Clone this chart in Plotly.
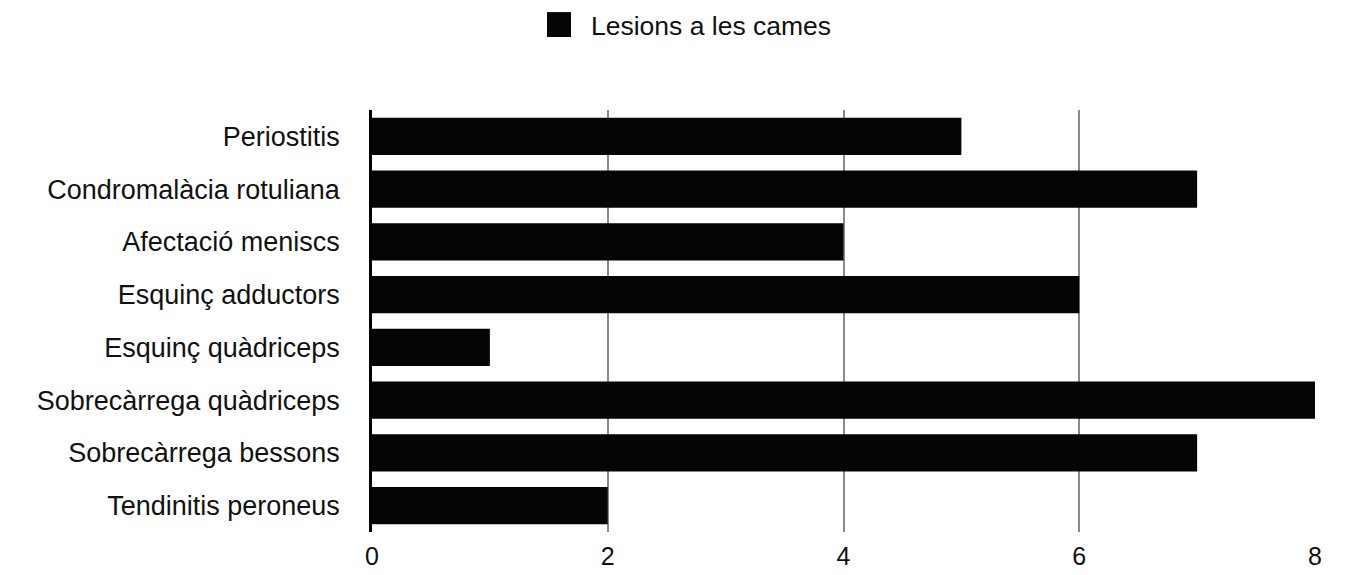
import plotly.graph_objects as go

# Leg injuries and number of cases
categories = [
    "Periostitis",
    "Condromalàcia rotuliana",
    "Afectació meniscs",
    "Esquinç adductors",
    "Esquinç quàdriceps",
    "Sobrecàrrega quàdriceps",
    "Sobrecàrrega bessons",
    "Tendinitis peroneus",
]
cases = [5, 7, 4, 6, 1, 8, 7, 2]
series_name = "Lesions a les cames"
x_ticks = [0, 2, 4, 6, 8]

FONT = "Liberation Sans, Arial, Helvetica, sans-serif"
BAR = "#050505"

fig = go.Figure(
    go.Bar(
        y=categories,
        x=cases,
        orientation="h",
        name=series_name,
        marker=dict(color=BAR, line=dict(width=0)),
        width=0.71,
        showlegend=False,
    )
)

# Legend drawn as a swatch + label above the plot
fig.add_shape(
    type="rect", xref="paper", yref="paper",
    x0=0.1856, x1=0.2110, y0=1.173, y1=1.232,
    fillcolor=BAR, line=dict(width=0),
)
fig.add_annotation(
    text=series_name, xref="paper", yref="paper",
    x=0.230, y=1.199, xanchor="left", yanchor="middle",
    showarrow=False, font=dict(family=FONT, size=26.5, color="#111"),
)

fig.update_layout(
    width=1346, height=575,
    margin=dict(l=372, r=31, t=110, b=43),
    paper_bgcolor="white", plot_bgcolor="white",
    font=dict(family=FONT, size=27, color="#111"),
    bargap=0.29,
)
fig.update_xaxes(
    range=[0, 8], tickvals=x_ticks,
    showgrid=True, gridcolor="#8a8a8a", gridwidth=1.5,
    zeroline=False, showline=False, ticks="",
    tickfont=dict(size=25),
    ticklabelstandoff=7, automargin=False,
)
fig.update_yaxes(
    categoryorder="array", categoryarray=categories,
    range=[len(categories) - 0.5, -0.5],
    showgrid=False, zeroline=False,
    showline=True, linecolor="#000", linewidth=2.5,
    ticks="", ticklabelstandoff=24, automargin=False,
)

fig.write_html("out.html")
